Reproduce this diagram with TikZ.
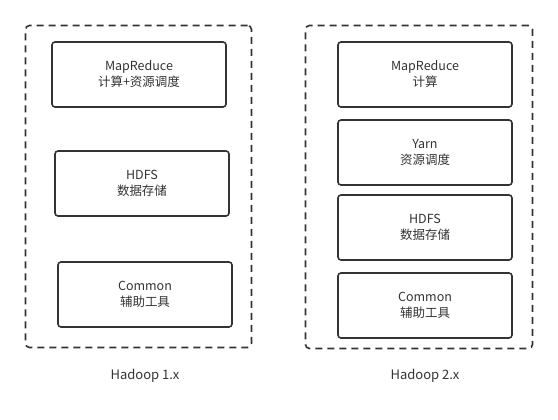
\documentclass[tikz,border=0pt]{standalone}
\usepackage{fontspec}
\setmainfont{Noto Sans CJK SC}
\definecolor{inkgray}{HTML}{333333}
\begin{document}
\begin{tikzpicture}[x=1pt, y=-1pt]
	\tikzstyle{every node}=[inner sep=1pt, align=center, text=inkgray, font=\fontsize{12.5}{16}\selectfont]
	\tikzstyle{layer}=[draw=inkgray, line width=1.6pt, rounded corners=3pt, minimum width=174pt, minimum height=65pt]
	\tikzstyle{frame}=[draw=inkgray, line width=1.6pt, dash pattern=on 7pt off 5pt, rounded corners=4pt]
	\tikzstyle{caption}=[font=\fontsize{13}{16}\selectfont]
	\useasboundingbox (0, 0) rectangle (558, 420);
	% Hadoop 1.x
	\node (F1) [frame, minimum width=226pt, minimum height=322pt] at (138.5, 186.5) {};
	\node (MR1) [layer] at (139, 74.5) {MapReduce\\计算+资源调度};
	\node (HDFS1) [layer] at (142, 183.5) {HDFS\\数据存储};
	\node (Com1) [layer] at (145, 294.5) {Common\\辅助工具};
	\node (L1) [caption] at (145, 376) {Hadoop 1.x};
	% Hadoop 2.x
	\node (F2) [frame, minimum width=227pt, minimum height=323pt] at (419, 187) {};
	\node (MR2) [layer] at (425, 74.5) {MapReduce\\计算};
	\node (Yarn2) [layer] at (425, 152.5) {Yarn\\资源调度};
	\node (HDFS2) [layer] at (425, 227.5) {HDFS\\数据存储};
	\node (Com2) [layer] at (425, 305.5) {Common\\辅助工具};
	\node (L2) [caption] at (425, 376) {Hadoop 2.x};
\end{tikzpicture}
\end{document}
